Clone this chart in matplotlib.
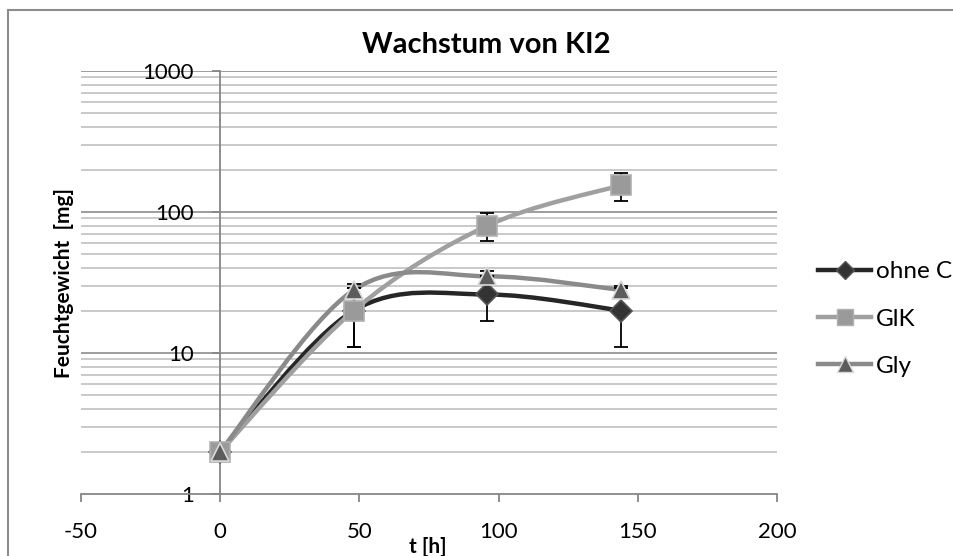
import numpy as np
import matplotlib
matplotlib.use("Agg")
from matplotlib import pyplot as plt
from matplotlib.path import Path
from matplotlib.patches import PathPatch, Rectangle
from matplotlib.lines import Line2D
from matplotlib.ticker import FixedLocator, NullFormatter

plt.rcParams['font.family'] = ['Lato', 'DejaVu Sans']

# data
t = [0, 48, 96, 144]
ohne_c = [2, 20, 26, 20]
ohne_c_err = [0, 9, 9, 9]
glk = [2, 20, 80, 155]
glk_err = [0, 9, 18, 35]
gly = [2, 28, 35, 28]
gly_err = [0, 3, 3, 2]

names = ['ohne C', 'GlK', 'Gly']
values = [ohne_c, glk, gly]
errors = [ohne_c_err, glk_err, gly_err]
line_cols = ['#262626', '#a0a0a0', '#8a8a8a']
mk_cols = ['#333333', '#9a9a9a', '#5c5c5c']
mk_edge = ['#555555', '#b0b0b0', '#d8d8d8']
markers = ['D', 's', '^']
mk_size = [11, 14, 13]


def smooth_path(x, y):
    # excel style smoothed line: catmull-rom bezier in (x, log y) space
    px = np.array(x, float)
    py = np.log10(np.array(y, float))
    n = len(px)
    verts = [(px[0], py[0])]
    codes = [Path.MOVETO]
    for i in range(n - 1):
        i0 = max(i - 1, 0)
        i3 = min(i + 2, n - 1)
        c1 = (px[i] + (px[i + 1] - px[i0]) / 6, py[i] + (py[i + 1] - py[i0]) / 6)
        c2 = (px[i + 1] - (px[i3] - px[i]) / 6, py[i + 1] - (py[i3] - py[i]) / 6)
        verts += [c1, c2, (px[i + 1], py[i + 1])]
        codes += [Path.CURVE4] * 3
    verts = [(a, 10 ** b) for a, b in verts]
    return Path(verts, codes)


fig = plt.figure(figsize=(9.54, 5.56), dpi=100)
W, H = 954, 556
L, R, T, B = 81, 777, 71, 494
ax = fig.add_axes([L / W, 1 - B / H, (R - L) / W, (B - T) / H])

ax.set_yscale('log')
ax.set_xlim(-50, 200)
ax.set_ylim(1, 1000)

# gridlines
minor = [m * 10 ** e for e in range(0, 3) for m in range(2, 10)]
for v in minor:
    ax.axhline(v, color='#c0c0c0', lw=1.2, zorder=0)
for v in [10, 100, 1000]:
    ax.axhline(v, color='#8c8c8c', lw=1.2, zorder=0)

for k in range(3):
    p = PathPatch(smooth_path(t, values[k]), fill=False, edgecolor=line_cols[k],
                  lw=3.2, zorder=2 + k, capstyle='round')
    ax.add_patch(p)
    ax.errorbar(t, values[k], yerr=errors[k], fmt='none', ecolor='black',
                elinewidth=1.3, capsize=5, capthick=1.3, zorder=5)
    ax.plot(t, values[k], ls='none', marker=markers[k], ms=mk_size[k],
            mfc=mk_cols[k], mec=mk_edge[k], mew=1.2, zorder=6 + k)

for s in ['top', 'right']:
    ax.spines[s].set_visible(False)
ax.spines['left'].set_position(('data', 0))
ax.spines['left'].set_color('#868686')
ax.spines['bottom'].set_color('#868686')
ax.spines['left'].set_linewidth(1.3)
ax.spines['bottom'].set_linewidth(1.3)

ax.set_xticks([-50, 0, 50, 100, 150, 200])
ax.set_xticklabels(['-50', '0', '50', '100', '150', '200'])
ax.yaxis.set_major_locator(FixedLocator([1, 10, 100, 1000]))
ax.set_yticklabels(['1', '10', '100', '1000'])
ax.yaxis.set_minor_locator(FixedLocator([]))
ax.yaxis.set_minor_formatter(NullFormatter())
ax.tick_params(axis='both', colors='#868686', labelcolor='black', labelsize=16,
               length=6, width=1.3, direction='out')
ax.tick_params(axis='y', pad=13)
ax.tick_params(axis='x', pad=14)

fig.text(486 / W, 1 - 45 / H, 'Wachstum von KI2', fontsize=21, fontweight='bold',
         ha='center', va='center')
ax.set_ylabel('Feuchtgewicht  [mg]', fontsize=15, fontweight='bold')
ax.yaxis.set_label_coords((74 - L) / (R - L), 0.5)
ax.set_xlabel('t [h]', fontsize=15, fontweight='bold', va='center')
ax.xaxis.set_label_coords((428 - L) / (R - L), -(547 - B) / (B - T))

# legend
handles = [Line2D([], [], color=line_cols[k], lw=3.2, marker=markers[k],
                  ms=mk_size[k] * 0.85, mfc=mk_cols[k], mec=mk_edge[k])
           for k in range(3)]
fig.legend(handles, names, loc='center left', bbox_to_anchor=(796 / W, 1 - 319 / H),
           frameon=False, fontsize=17.5, handlelength=2.2, handletextpad=0.2,
           labelspacing=1.08)

fig.patches.append(Rectangle((8 / W, -0.05), 1.1, 1 - 10 / H + 0.05,
                             transform=fig.transFigure, fill=False,
                             edgecolor='#8c8c8c', lw=1.5))

fig.savefig('out.png', dpi=100)
